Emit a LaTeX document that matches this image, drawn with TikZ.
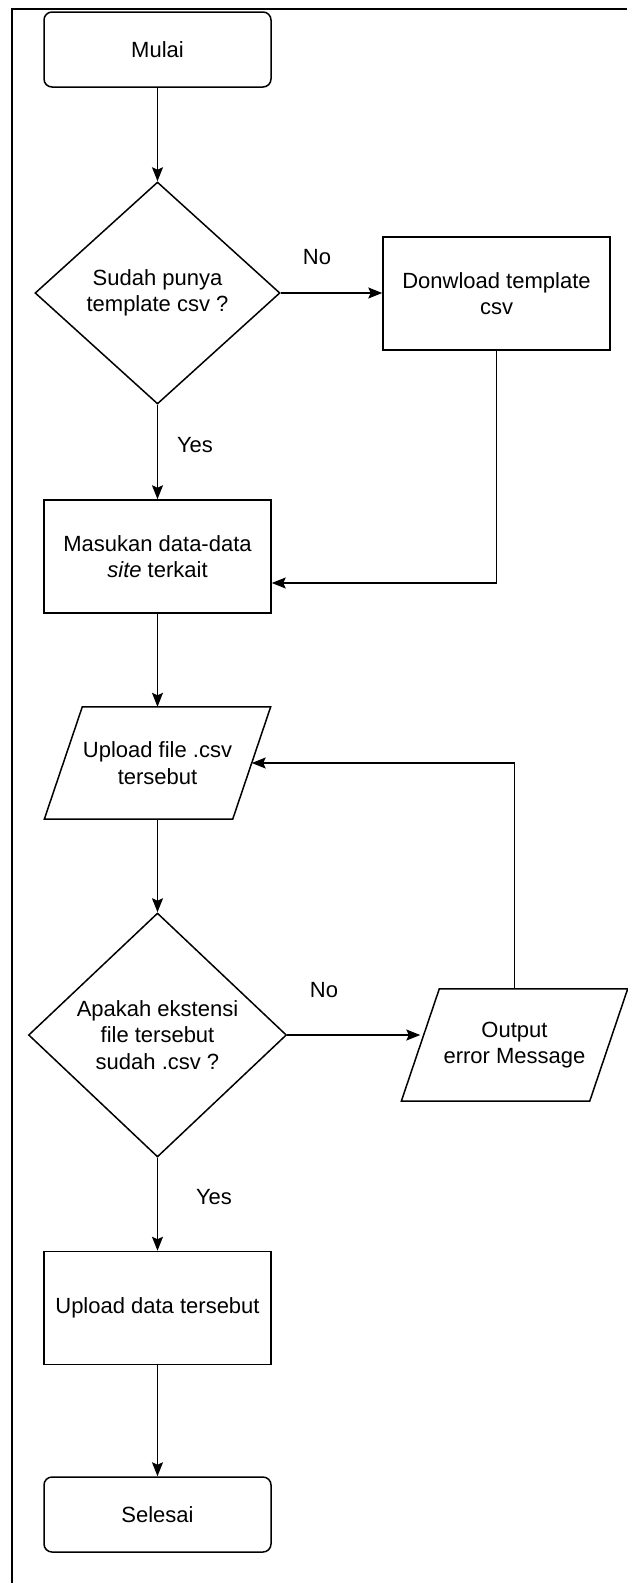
\documentclass[tikz,border=0pt]{standalone}
\usepackage{fontspec}
\setmainfont{Liberation Sans}
\usetikzlibrary{arrows.meta,shapes.geometric}

\begin{document}
\begin{tikzpicture}[x=1pt,y=-1pt,>={Stealth[length=14pt,width=11pt,inset=2.5pt]},
  every node/.style={font=\fontsize{22}{26.5}\selectfont},
  term/.style={draw,line width=1.5pt,rounded corners=8pt,minimum width=227pt,minimum height=75pt},
  proc/.style={draw,line width=1.5pt,minimum width=227pt,minimum height=113pt,align=center},
  decision/.style={draw,line width=1.5pt,diamond,inner sep=0pt,align=center},
  iobox/.style={minimum width=188pt,minimum height=112pt,align=center},
  flow/.style={->,line width=1.4pt}]
  \useasboundingbox (0,0) rectangle (627,1583);
  % bingkai luar (terpotong di kanan dan bawah)
  \draw[line width=2pt] (627,9) -- (11.5,9) -- (11.5,1583);

  \node[term] (mulai) at (157.5,49.5) {Mulai};
  \node[decision,minimum width=245pt,minimum height=222pt] (punya) at (157.5,293) {Sudah punya\\template csv ?};
  \node[proc] (unduh) at (496.5,293.5) {Donwload template\\csv};
  \node[proc] (isi) at (157.5,556.5) {Masukan data-data\\\textit{site} terkait};

  % input/output digambar sebagai jajaran genjang
  \node[iobox] (upfile) at (157.5,763) {Upload file .csv\\tersebut};
  \draw[line width=1.5pt] ([xshift=19pt]upfile.north west) -- ([xshift=19pt]upfile.north east)
    -- ([xshift=-19pt]upfile.south east) -- ([xshift=-19pt]upfile.south west) -- cycle;

  \node[decision,minimum width=258pt,minimum height=244pt] (cek) at (157.5,1035) {Apakah ekstensi\\file tersebut\\sudah .csv ?};
  \node[iobox] (galat) at (514.5,1045) {Output\\error Message};
  \draw[line width=1.5pt] ([xshift=19pt]galat.north west) -- ([xshift=19pt]galat.north east)
    -- ([xshift=-19pt]galat.south east) -- ([xshift=-19pt]galat.south west) -- cycle;

  \node[proc] (updata) at (157.5,1308) {Upload data tersebut};
  \node[term] (selesai) at (157.5,1514.5) {Selesai};

  % label cabang
  \node (no1) at (317,257) {No};
  \node (yes1) at (195,445) {Yes};
  \node (no2) at (324,990) {No};
  \node (yes2) at (214,1197) {Yes};

  \draw[flow] (mulai) -- (punya);
  \draw[flow] (punya.east) -- (unduh.west |- punya.east);
  \draw[flow] (punya) -- (isi);
  \draw[flow] (unduh.south) |- ([yshift=-26.5pt]isi.east);
  \draw[flow] (isi) -- (upfile);
  \draw[flow] (upfile) -- (cek);
  \draw[flow] (cek.east) -- (galat.west |- cek.east);
  \draw[flow] (galat.north) |- (upfile.east);
  \draw[flow] (cek) -- (updata);
  \draw[flow] (updata) -- (selesai);
\end{tikzpicture}
\end{document}
